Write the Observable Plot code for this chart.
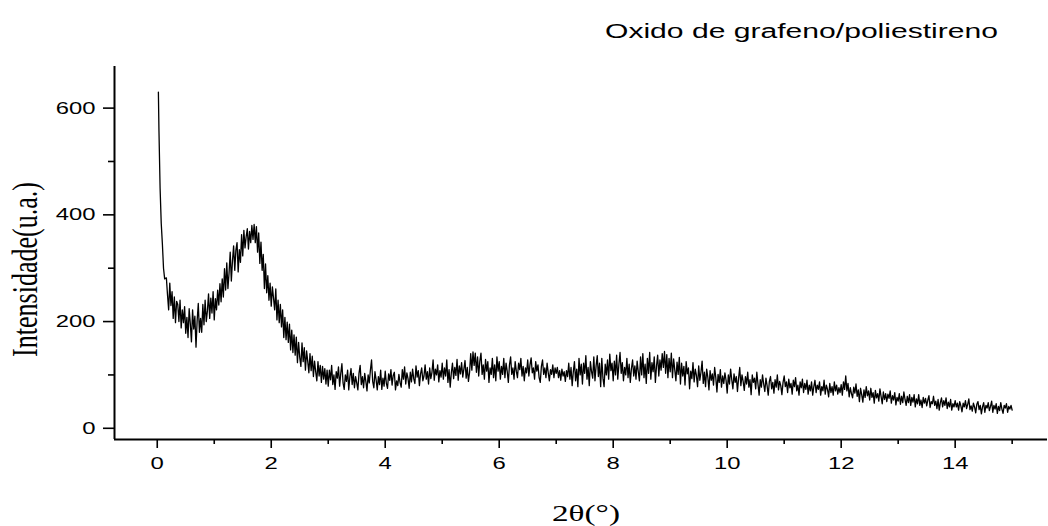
<!DOCTYPE html>
<html><head><meta charset="utf-8">
<script src="https://cdn.jsdelivr.net/npm/d3@7"></script>
<script src="https://cdn.jsdelivr.net/npm/@observablehq/plot@0.6"></script>
<style>html,body{margin:0;padding:0;background:#fff;} #chart svg{display:block}</style>
</head><body><div id="chart"></div>
<script>
// ---- data (2θ in degrees, intensity in u.a.) ----
const titleText = "Oxido de grafeno/poliestireno";
const xLabelText = "2θ(°)";
const yLabelText = "Intensidade(u.a.)";
const xTicks = [0, 2, 4, 6, 8, 10, 12, 14];
const xMinorTicks = [1, 3, 5, 7, 9, 11, 13, 15];
const yTicks = [0, 200, 400, 600];
const yMinorTicks = [100, 300, 500];
const xDomain = [-0.75, 15.62];
const yDomain = [-21, 678];

// low-angle spike, read point by point
const spikeAngle = [0.02, 0.03, 0.05, 0.07, 0.09, 0.11, 0.13];
const spikeIntensity = [630, 558, 450, 384, 346, 300, 280];

// regular scan, 0.02° steps; each array starts at the given angle
const step = 0.02;
const segStart = [0.16, 1, 2, 3, 4, 5, 6, 7, 8, 9, 10, 11, 12, 13, 14];
const seg0 = [282,250,222,272,230,256,206,246,198,238,232,200,240,188,222,198,228,178,208,170,224,196,162,222,186,210,152,202,234,180,206,180,232,194,240,200,220,252,206,244,216,256];
const seg1 = [203,243,222,259,231,271,237,280,246,299,259,310,262,291,330,276,314,342,296,334,348,293,335,311,363,323,371,338,359,374,336,369,348,380,354,382,348,378,330,366,309,349,296,326,262,308,254,286,240,272];
const seg2 = [229,265,244,222,261,203,240,198,232,190,222,170,208,166,199,161,195,147,184,142,175,137,171,123,161,133,116,160,125,151,109,145,126,104,140,108,135,97,126,106,89,125,98,118,86,116,92,112,83,109];
const seg3 = [79,109,91,118,82,100,73,106,94,115,79,103,121,85,73,100,88,109,72,97,112,82,103,76,97,85,72,103,118,82,97,76,103,88,70,100,85,109,128,88,76,106,91,72,97,82,109,73,94,79];
const seg4 = [107,84,75,102,90,110,81,99,105,72,89,80,101,86,77,110,92,115,83,104,93,75,105,87,111,93,84,117,96,108,80,102,113,89,98,119,92,106,83,113,93,105,128,90,111,100,119,87,108,96];
const seg5 = [122,92,113,98,128,86,110,77,104,122,93,114,99,129,90,117,102,123,96,111,127,94,114,88,105,140,109,143,118,141,105,134,98,126,141,101,119,92,129,107,125,86,113,101,131,95,119,89,134,107];
const seg6 = [125,92,116,101,131,95,122,107,86,119,134,101,113,92,125,107,95,122,110,131,98,116,89,113,104,128,98,119,132,104,113,92,125,107,119,95,86,116,128,101,113,95,122,104,89,110,101,119,95,113];
const seg7 = [103,114,95,108,90,111,98,106,88,108,97,122,92,114,80,106,125,89,111,78,131,100,120,83,122,103,136,92,114,80,125,106,94,134,89,117,136,97,122,78,131,94,78,120,100,128,92,139,108,122];
const seg8 = [89,126,100,137,92,120,142,103,123,89,114,100,131,95,120,86,112,128,98,117,92,126,106,89,134,100,140,95,120,84,131,103,142,92,123,106,134,86,117,137,98,128,109,140,114,144,103,138,95,131];
const seg9 = [106,141,95,130,110,89,124,101,133,83,122,98,116,81,125,102,113,74,107,93,123,87,111,99,78,117,90,105,126,84,105,78,111,96,72,108,90,102,81,114,95,68,101,86,110,77,98,84,104,90];
const seg10 = [66,100,83,111,91,74,102,86,97,69,94,114,80,100,88,71,97,83,105,77,91,63,100,86,94,74,105,83,62,91,77,100,83,69,94,80,62,88,97,74,86,66,91,77,100,72,88,80,63,86];
const seg11 = [98,78,87,67,92,76,84,64,90,78,95,70,81,62,87,76,92,67,84,73,90,64,81,70,87,62,78,90,67,81,73,87,62,78,70,90,64,81,73,59,84,67,78,62,87,70,81,64,76,67];
const seg12 = [82,62,87,73,98,70,84,59,76,65,57,77,66,83,60,72,50,75,63,49,72,58,78,61,70,53,75,58,67,47,71,57,65,51,74,60,46,68,54,65,50,64,56,70,47,61,53,67,44,58];
const seg13 = [51,65,45,60,48,68,54,43,60,48,63,43,58,49,63,40,55,46,63,43,53,39,58,47,56,42,53,61,39,50,46,60,43,51,37,54,34,48,57,40,52,43,57,37,49,40,54,34,46,40];
const seg14 = [52,40,47,34,50,42,31,47,40,52,37,45,55,35,42,32,47,40,29,45,50,35,43,27,40,48,30,43,38,48,33,41,51,30,43,36,46,28,41,33,48,36,28,43,38,46,30,41,36,43,34];
const segments = [seg0,seg1,seg2,seg3,seg4,seg5,seg6,seg7,seg8,seg9,seg10,seg11,seg12,seg13,seg14];

const data = spikeAngle.map((a, i) => ({angle: a, intensity: spikeIntensity[i]}));
segments.forEach((seg, k) => seg.forEach((v, i) => data.push({angle: +(segStart[k] + i * step).toFixed(2), intensity: v})));

const sans = "'Liberation Sans', Arial, sans-serif";
const serif = "'Liberation Serif', 'Times New Roman', serif";

const chart = Plot.plot({
  width: 1048, height: 526,
  marginLeft: 114, marginRight: 1, marginTop: 66, marginBottom: 87,
  style: {background: "white", fontFamily: sans, color: "black"},
  x: {domain: xDomain},
  y: {domain: yDomain},
  marks: [
    Plot.axisX({ticks: xTicks, tickSize: 9, tickPadding: 8, fontSize: 17, strokeWidth: 1.6, label: null, tickFormat: d => String(d)}),
    Plot.axisX({ticks: xMinorTicks, tickSize: 5, strokeWidth: 1.6, label: null, tickFormat: () => ""}),
    Plot.axisY({ticks: yTicks, tickSize: 11, tickPadding: 8, fontSize: 17, strokeWidth: 1.6, label: null, tickFormat: d => String(d)}),
    Plot.axisY({ticks: yMinorTicks, tickSize: 6, strokeWidth: 1.6, label: null, tickFormat: () => ""}),
    Plot.ruleX([xDomain[0]], {strokeWidth: 2}),
    Plot.ruleY([yDomain[0]], {strokeWidth: 2}),
    Plot.line(data, {x: "angle", y: "intensity", stroke: "black", strokeWidth: 1.3})
  ]
});
document.getElementById("chart").append(chart);

const svg = d3.select(chart);
// horizontal stretch of the sans tick labels, as in the reference
svg.selectAll("text").each(function() {
  if (!this.textContent) return;
  const L = this.getComputedTextLength();
  this.setAttribute("textLength", (L * 1.4).toFixed(1));
  this.setAttribute("lengthAdjust", "spacingAndGlyphs");
});
svg.append("text")
  .attr("x", 998).attr("y", 38).attr("text-anchor", "end")
  .attr("font-family", sans).attr("font-size", 20).attr("fill", "black")
  .attr("textLength", 393).attr("lengthAdjust", "spacingAndGlyphs")
  .text(titleText);
svg.append("text")
  .attr("x", 586).attr("y", 521).attr("text-anchor", "middle")
  .style("font-family", serif).attr("font-size", 23).attr("fill", "black")
  .attr("textLength", 68).attr("lengthAdjust", "spacingAndGlyphs")
  .text(xLabelText);
svg.append("text")
  .attr("transform", "translate(37,269.5) rotate(-90)").attr("text-anchor", "middle")
  .style("font-family", serif).attr("font-size", 36).attr("fill", "black")
  .attr("textLength", 175).attr("lengthAdjust", "spacingAndGlyphs")
  .text(yLabelText);
</script>
</body></html>
